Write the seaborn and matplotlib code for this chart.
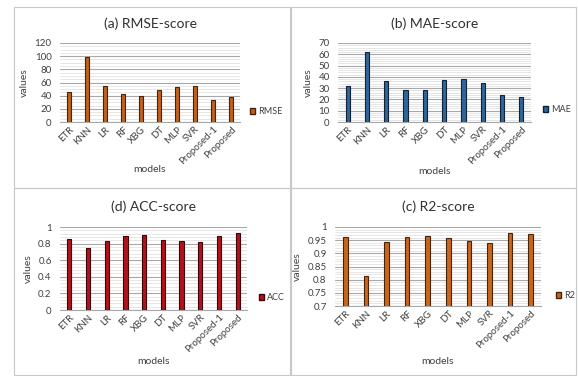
import matplotlib
matplotlib.use("Agg")
import matplotlib.pyplot as plt
import seaborn as sns
import pandas as pd
import numpy as np
from matplotlib.patches import Patch, Rectangle
from matplotlib.ticker import MultipleLocator

models = ["ETR", "KNN", "LR", "RF", "XBG", "DT", "MLP", "SVR", "Proposed-1", "Proposed"]
rmse = [46, 98, 54, 42, 40, 48, 53, 54, 34, 38]
mae = [32, 62, 36, 28, 28, 37, 38, 35, 24, 22]
acc = [0.86, 0.75, 0.83, 0.89, 0.90, 0.84, 0.83, 0.82, 0.89, 0.93]
r2 = [0.962, 0.815, 0.942, 0.963, 0.965, 0.957, 0.947, 0.940, 0.977, 0.972]

sns.set_theme(style="white")
plt.rcParams['font.family'] = ['Lato', 'DejaVu Sans']

W, H = 578, 376
fig = plt.figure(figsize=(W / 100, H / 100), dpi=100)
fig.patch.set_facecolor("white")

def px_rect(x0, y0, x1, y1):
    return [x0 / W, 1 - y1 / H, (x1 - x0) / W, (y1 - y0) / H]

# panel borders
for (x0, y0, x1, y1) in [(14, 7, 290, 188), (291, 7, 576, 188), (14, 188, 290, 375), (291, 188, 576, 375)]:
    fig.patches.append(Rectangle((x0 / W, 1 - y1 / H), (x1 - x0) / W, (y1 - y0) / H,
                                 transform=fig.transFigure, fill=False, edgecolor="#c8c8c8", lw=0.8))

panels = [
    dict(vals=rmse, name="RMSE", title="(a) RMSE-score", color="#c0621c", edge="#4a2008",
         rect=(60, 43, 240, 122), ylim=(0, 120), major=20, minor=5, fmt="{:.0f}",
         title_y=24, xlabel_y=169, leg=(250, 112)),
    dict(vals=mae, name="MAE", title="(b) MAE-score", color="#2f6698", edge="#0e2238",
         rect=(338, 43, 531, 122), ylim=(0, 70), major=10, minor=2, fmt="{:.0f}",
         title_y=24, xlabel_y=172, leg=(543, 110)),
    dict(vals=acc, name="ACC", title="(d) ACC-score", color="#b3111c", edge="#3c0308",
         rect=(60, 227, 247, 310), ylim=(0, 1), major=0.2, minor=0.04, fmt="{:g}",
         title_y=207, xlabel_y=361, leg=(259, 298)),
    dict(vals=r2, name="R2", title="(c) R2-score", color="#c8661e", edge="#4a2208",
         rect=(335, 227, 541, 306), ylim=(0.7, 1), major=0.05, minor=0.01, fmt="{:g}",
         title_y=207, xlabel_y=361, leg=(556, 296)),
]

for p in panels:
    x0, y0, x1, y1 = p["rect"]
    ax = fig.add_axes(px_rect(x0, y0, x1, y1))
    df = pd.DataFrame({"models": models, "values": p["vals"]})
    sns.barplot(data=df, x="models", y="values", ax=ax, color=p["color"],
                width=0.22, edgecolor=p["edge"], linewidth=0.8, saturation=1, zorder=3)
    ax.set_ylim(*p["ylim"])
    ax.yaxis.set_major_locator(MultipleLocator(p["major"]))
    ax.yaxis.set_minor_locator(MultipleLocator(p["minor"]))
    ax.grid(axis="y", which="major", color="#a8a8a8", lw=0.8, zorder=0)
    ax.grid(axis="y", which="minor", color="#dcdcdc", lw=0.5, zorder=0)
    ax.set_axisbelow(True)
    for s in ["top", "right", "left"]:
        ax.spines[s].set_visible(False)
    ax.spines["bottom"].set_color("#a8a8a8")
    ax.spines["bottom"].set_linewidth(0.8)
    ticks = ax.get_yticks()
    ax.set_yticks([t for t in ticks if p["ylim"][0] - 1e-9 <= t <= p["ylim"][1] + 1e-9])
    ax.set_yticklabels([p["fmt"].format(round(t, 2)) for t in ax.get_yticks()])
    ax.tick_params(axis="y", which="both", length=0, labelsize=7, pad=6, colors="#404040")
    ax.tick_params(axis="x", length=0, labelsize=7, pad=2, colors="#404040")
    plt.setp(ax.get_xticklabels(), rotation=45, ha="right", rotation_mode="anchor")
    ax.set_xlabel("")
    ax.set_ylabel("values", fontsize=7.5, color="#404040", labelpad=4)
    cx = (x0 + x1) / 2
    fig.text(cx / W, 1 - p["title_y"] / H, p["title"], ha="center", va="center",
             fontsize=10, color="#303030")
    fig.text(cx / W, 1 - p["xlabel_y"] / H, "models", ha="center", va="center",
             fontsize=7.5, color="#404040")
    lx, ly = p["leg"]
    fig.legend(handles=[Patch(facecolor=p["color"], edgecolor=p["edge"], label=p["name"])],
               loc="center left", bbox_to_anchor=(lx / W, 1 - ly / H), frameon=False,
               fontsize=6.5, handlelength=0.6, handleheight=0.6, handletextpad=0.3,
               borderpad=0, borderaxespad=0, labelcolor="#404040")

fig.savefig("out.png", dpi=100, facecolor="white")
